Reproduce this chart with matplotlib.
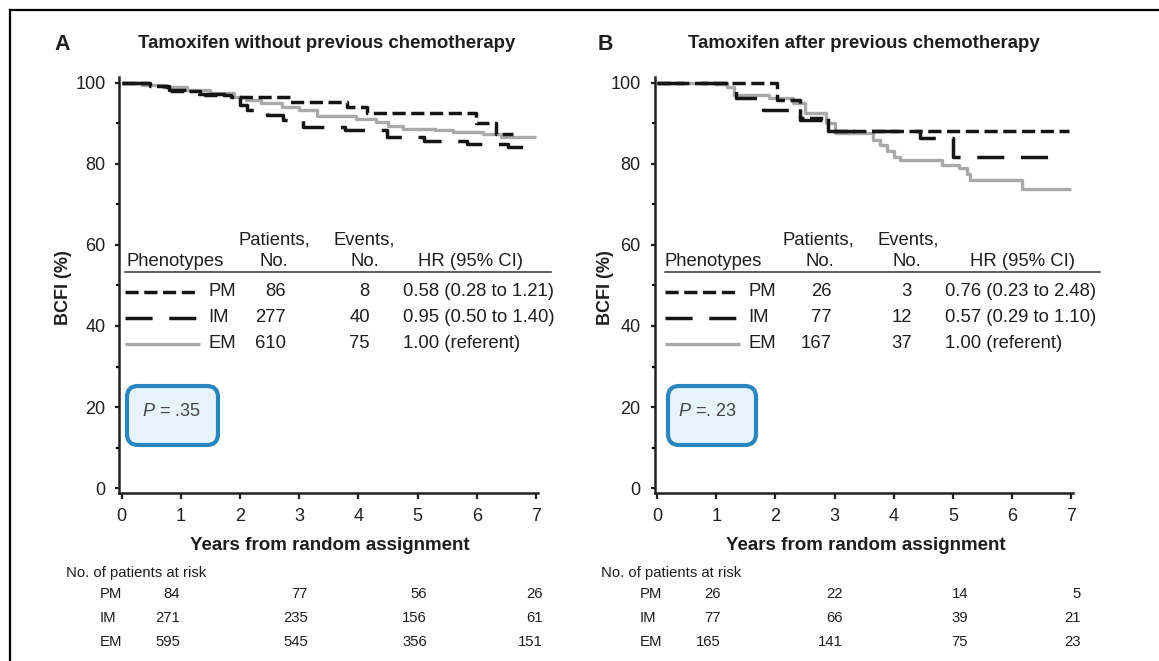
import matplotlib
matplotlib.use("Agg")
import matplotlib.pyplot as plt
from matplotlib.lines import Line2D
from matplotlib.patches import FancyBboxPatch
from matplotlib.transforms import IdentityTransform

plt.rcParams["font.family"] = ["Liberation Sans", "DejaVu Sans"]
plt.rcParams["mathtext.fontset"] = "custom"
plt.rcParams["mathtext.it"] = "Liberation Sans:italic"
plt.rcParams["mathtext.rm"] = "Liberation Sans"

# ---------------- data ----------------
phenotypes = ["PM", "IM", "EM"]

# Panel A: tamoxifen without previous chemotherapy (Kaplan-Meier steps)
a_pm_t = [0, 0.48, 0.76, 1.33, 1.85, 2.85, 3.81, 4.15, 5.98, 6.32, 6.61]
a_pm_s = [100, 99.2, 98.0, 97.0, 96.5, 95.2, 94.1, 92.6, 90.0, 87.3, 87.3]
a_im_t = [0, 0.5, 0.8, 1.3, 1.85, 2.0, 2.12, 2.46, 2.73, 3.07, 3.77, 4.49, 5.11, 5.84, 6.52, 6.95]
a_im_s = [100, 99.2, 98.2, 97.2, 96.5, 94.5, 93.3, 92.0, 90.8, 89.1, 88.3, 86.7, 85.7, 85.0, 84.1, 84.1]
a_em_t = [0, 0.35, 0.7, 1.1, 1.5, 1.9, 2.1, 2.35, 2.7, 3.0, 3.3, 3.95, 4.3, 4.5, 4.75, 5.3, 5.6, 6.1, 6.4, 7.0]
a_em_s = [100, 99.5, 98.9, 98.2, 97.5, 96.5, 95.8, 95.0, 94.1, 93.3, 91.7, 91.0, 90.4, 89.3, 88.6, 88.3, 87.9, 87.3, 86.6, 86.6]

# Panel B: tamoxifen after previous chemotherapy
b_pm_t = [0, 2.02, 2.41, 2.89, 6.96]
b_pm_s = [100, 95.7, 91.2, 88.1, 88.1]
b_im_t = [0, 1.34, 1.79, 2.41, 2.86, 4.44, 5.0, 6.77]
b_im_s = [100, 96.2, 93.4, 90.8, 88.1, 86.3, 81.7, 81.7]
b_em_t = [0, 1.0, 1.18, 1.3, 1.9, 2.3, 2.5, 2.85, 3.0, 3.65, 3.76, 3.88, 4.0, 4.1, 4.82, 5.11, 5.23, 5.28, 6.17, 7.0]
b_em_s = [100, 99.6, 99.0, 97.0, 96.2, 94.9, 92.5, 90.0, 87.5, 85.9, 84.7, 83.1, 81.7, 80.9, 79.7, 78.9, 77.6, 76.0, 73.9, 73.9]

a_patients = ["86", "277", "610"]
a_events = ["8", "40", "75"]
a_hr = ["0.58 (0.28 to 1.21)", "0.95 (0.50 to 1.40)", "1.00 (referent)"]
b_patients = ["26", "77", "167"]
b_events = ["3", "12", "37"]
b_hr = ["0.76 (0.23 to 2.48)", "0.57 (0.29 to 1.10)", "1.00 (referent)"]

a_at_risk = [["84", "77", "56", "26"], ["271", "235", "156", "61"], ["595", "545", "356", "151"]]
b_at_risk = [["26", "22", "14", "5"], ["77", "66", "39", "21"], ["165", "141", "75", "23"]]

a_title = "Tamoxifen without previous chemotherapy"
b_title = "Tamoxifen after previous chemotherapy"
a_p = r"$\mathit{P}$ = .35"
b_p = r"$\mathit{P}$ =. 23"

x_ticks = list(range(0, 8))
y_ticks = [0, 20, 40, 60, 80, 100]
y_minor = [10, 30, 50, 70, 90]

# ---------------- styles / layout ----------------
W, H = 1159, 661
BLACK = "#151515"
GRAY = "#a9a9a9"
TXT = "#1e1e1e"
FS = 13.3
styles = {
    "PM": dict(color=BLACK, lw=2.5, dashes=(3.8, 1.6)),
    "IM": dict(color=BLACK, lw=2.5, dashes=(7.8, 4.8)),
    "EM": dict(color=GRAY, lw=2.4, dashes=()),
}

fig = plt.figure(figsize=(W / 100, H / 100), dpi=100)


def fx(x):
    return x / W


def fy(y):
    return 1 - y / H


def ftext(x, y, s, **kw):
    kw.setdefault("fontsize", FS)
    kw.setdefault("color", TXT)
    fig.text(fx(x), fy(y), s, **kw)


def fline(x0, x1, y0, y1, **kw):
    fig.add_artist(Line2D([fx(x0), fx(x1)], [fy(y0), fy(y1)], transform=fig.transFigure, **kw))


panels = [
    dict(left=119.3, curves=[(a_pm_t, a_pm_s), (a_im_t, a_im_s), (a_em_t, a_em_s)],
         title=a_title, letter="A", pval=a_p, patients=a_patients, events=a_events, hr=a_hr,
         risk=a_at_risk,
         tab=dict(samp=(125, 200), lab=208, pat=286, ev=370, hr=403, phen=127, rule=(125, 551),
                  pat_hdr=274, ev_hdr=364, hr_hdr=470),
         pbox=(125, 220), ptext=142, letter_x=62, title_x=327, ylab_x=63,
         risk_x=dict(hdr=66, lab=100, cols=[180, 308, 427, 543])),
    dict(left=654.6, curves=[(b_pm_t, b_pm_s), (b_im_t, b_im_s), (b_em_t, b_em_s)],
         title=b_title, letter="B", pval=b_p, patients=b_patients, events=b_events, hr=b_hr,
         risk=b_at_risk,
         tab=dict(samp=(665, 740), lab=748, pat=832, ev=912, hr=945, phen=665, rule=(665, 1100),
                  pat_hdr=818, ev_hdr=908, hr_hdr=1023),
         pbox=(666, 758), ptext=678, letter_x=605, title_x=864, ylab_x=605,
         risk_x=dict(hdr=601, lab=640, cols=[721, 843, 968, 1081])),
]

AX_W = 7.07 * 59.2
AX_TOP, AX_BOT = 76.7, 493.0

for p in panels:
    ax = fig.add_axes([fx(p["left"]), fy(AX_BOT), AX_W / W, (AX_BOT - AX_TOP) / H])
    ax.set_xlim(-0.04, 7.03)
    ax.set_ylim(-1.2, 101.5)
    for name, (t, s) in zip(phenotypes, p["curves"]):
        st = styles[name]
        ln, = ax.step(t, s, where="post", color=st["color"], lw=st["lw"],
                      solid_capstyle="butt", dash_capstyle="butt", zorder=3 if name != "EM" else 2)
        if st["dashes"]:
            ln.set_dashes(st["dashes"])
    for side in ("top", "right"):
        ax.spines[side].set_visible(False)
    for side in ("left", "bottom"):
        ax.spines[side].set_linewidth(1.8)
        ax.spines[side].set_color("#202020")
    ax.set_xticks(x_ticks)
    ax.set_yticks(y_ticks)
    ax.set_yticks(y_minor, minor=True)
    ax.tick_params(axis="x", direction="out", length=4.5, width=1.6, pad=6,
                   labelsize=13, colors="#202020")
    ax.tick_params(axis="y", which="major", direction="out", length=3, width=1.6, pad=7,
                   labelsize=13, colors="#202020")
    ax.tick_params(axis="y", which="minor", direction="out", length=2.5, width=1.6)
    ax.patch.set_alpha(0)

    # panel letter, title and axis labels
    ftext(p["letter_x"], 44, p["letter"], fontsize=15.5, fontweight="bold", ha="center", va="center")
    ftext(p["title_x"], 43, p["title"], fontsize=13.4, fontweight="bold", ha="center", va="center")
    ftext(p["ylab_x"], 288, "BCFI (%)", fontsize=13, fontweight="bold", rotation=90,
          ha="center", va="center")
    ftext(p["left"] + 211, 545, "Years from random assignment", fontsize=13.5, fontweight="bold",
          ha="center", va="center")

    # hazard ratio table
    tb = p["tab"]
    ftext(tb["phen"], 262, "Phenotypes", ha="left", va="center")
    ftext(tb["pat_hdr"], 240, "Patients,", ha="center", va="center")
    ftext(tb["pat"] + 2, 262, "No.", ha="right", va="center")
    ftext(tb["ev_hdr"], 240, "Events,", ha="center", va="center")
    ftext(tb["ev"] + 9, 262, "No.", ha="right", va="center")
    ftext(tb["hr_hdr"], 262, "HR (95% CI)", ha="center", va="center")
    fline(tb["rule"][0], tb["rule"][1], 271.7, 271.7, color="#303030", lw=1.1)
    row_y = [292, 318, 344]
    for name, y, npat, nev, hr in zip(phenotypes, row_y, p["patients"], p["events"], p["hr"]):
        st = styles[name]
        sample = Line2D([fx(tb["samp"][0]), fx(tb["samp"][1])], [fy(y), fy(y)],
                        transform=fig.transFigure, color=st["color"], lw=st["lw"],
                        solid_capstyle="butt", dash_capstyle="butt")
        if st["dashes"]:
            sample.set_dashes(st["dashes"])
        fig.add_artist(sample)
        ftext(tb["lab"], y, name, ha="left", va="center")
        ftext(tb["pat"], y, npat, ha="right", va="center")
        ftext(tb["ev"], y, nev, ha="right", va="center")
        ftext(tb["hr"], y, hr, ha="left", va="center")

    # P-value box
    x0, x1 = p["pbox"]
    box = FancyBboxPatch((x0 + 2, H - 445), x1 - x0 - 4, 59,
                         boxstyle="round,pad=0,rounding_size=11",
                         transform=IdentityTransform(), facecolor="#e7f4fc",
                         edgecolor="#2b86bd", linewidth=3.0)
    fig.add_artist(box)
    ftext(p["ptext"], 411, p["pval"], fontsize=13, color="#454545", ha="left", va="center")

    # patients at risk
    rx = p["risk_x"]
    ftext(rx["hdr"], 573, "No. of patients at risk", fontsize=10.7, ha="left", va="center")
    for name, y, vals in zip(phenotypes, [594, 618, 642], p["risk"]):
        ftext(rx["lab"], y, name, fontsize=10.7, ha="left", va="center")
        for cx, v in zip(rx["cols"], vals):
            ftext(cx, y, v, fontsize=10.7, ha="right", va="center")

# outer frame (top and left edges)
fline(10, W, 10, 10, color="black", lw=1.6)
fline(10, 10, 10, H, color="black", lw=1.6)

fig.savefig("out.png", dpi=100)
